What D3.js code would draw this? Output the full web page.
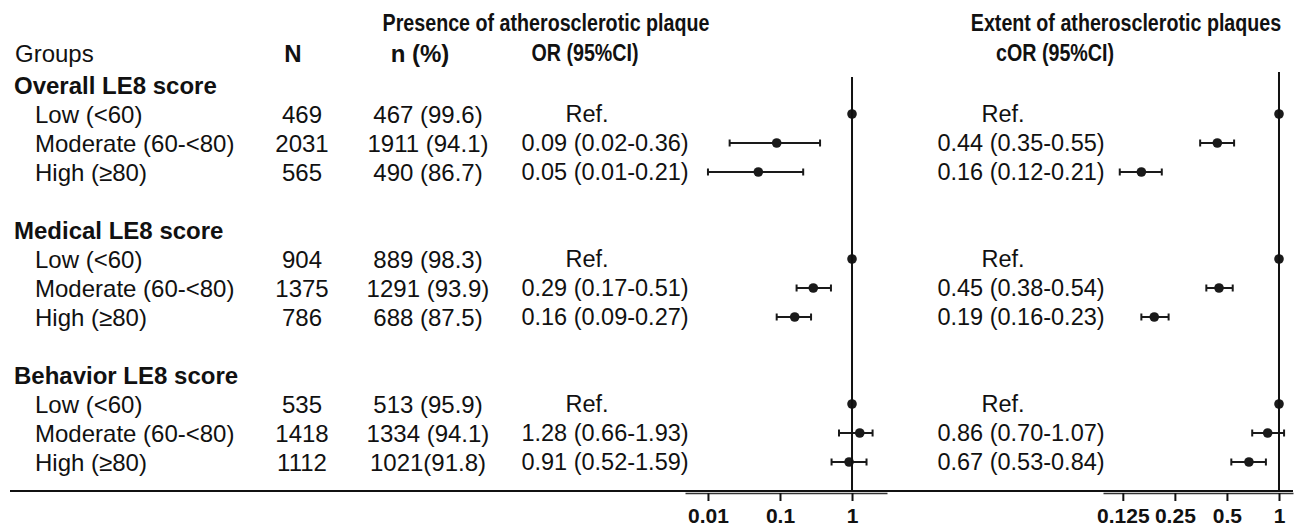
<!DOCTYPE html>
<html>
<head>
<meta charset="utf-8">
<script src="https://cdn.jsdelivr.net/npm/d3@7"></script>
<style>
  body { margin: 0; background: #fff; }
  text { font-family: 'Liberation Sans', Arial, sans-serif; fill: #111; }
</style>
</head>
<body>
<div id="forest"></div>
<script>

// data
var groups = ["Overall LE8 score", "Medical LE8 score", "Behavior LE8 score"];
var levels = ["Low (<60)", "Moderate (60-<80)", "High (\u226580)"];
var nTotal = [469, 2031, 565, 904, 1375, 786, 535, 1418, 1112];
var nCases = ["467 (99.6)", "1911 (94.1)", "490 (86.7)", "889 (98.3)", "1291 (93.9)", "688 (87.5)", "513 (95.9)", "1334 (94.1)", "1021(91.8)"];
var orEst  = [1, 0.09, 0.05, 1, 0.29, 0.16, 1, 1.28, 0.91];
var orLow  = [null, 0.02, 0.01, null, 0.17, 0.09, null, 0.66, 0.52];
var orHigh = [null, 0.36, 0.21, null, 0.51, 0.27, null, 1.93, 1.59];
var corEst  = [1, 0.44, 0.16, 1, 0.45, 0.19, 1, 0.86, 0.67];
var corLow  = [null, 0.35, 0.12, null, 0.38, 0.16, null, 0.70, 0.53];
var corHigh = [null, 0.55, 0.21, null, 0.54, 0.23, null, 1.07, 0.84];
var orTicks = [0.01, 0.1, 1];
var corTicks = [0.125, 0.25, 0.5, 1];

var width = 1296, height = 530;

var svg = d3.select("#forest")
  .append("svg")
    .attr("width", width)
    .attr("height", height);

// build the row list (group header, 3 levels, spacer)
var rowKeys = [];
var rows = [];
groups.forEach(function(g, gi) {
  rowKeys.push("h" + gi);
  levels.forEach(function(l, li) {
    var k = gi * 3 + li;
    rowKeys.push("r" + k);
    rows.push({key: "r" + k, label: l, n: nTotal[k], cases: nCases[k],
      or: orEst[k], orL: orLow[k], orH: orHigh[k],
      cor: corEst[k], corL: corLow[k], corH: corHigh[k]});
  });
  if (gi < groups.length - 1) rowKeys.push("s" + gi);
});

var y = d3.scalePoint()
  .domain(rowKeys)
  .range([85, 462]);

// log scales for the two panels
var xOR = d3.scaleLog()
  .domain([0.0048, 3.06])
  .range([685, 887]);
var xCOR = d3.scaleLog().base(2)
  .domain([0.096, 1.205])
  .range([1103, 1293]);

var fmt = d3.format(".2f");
function ciText(e, l, h) {
  if (l == null) return "Ref.";
  return fmt(e) + " (" + fmt(l) + "-" + fmt(h) + ")";
}

// column headers (the panel titles are set in a condensed bold face)
var head = svg.append("g").style("font-weight", "bold").style("font-size", "24px");
function narrowText(x, yy, s) {
  head.append("text")
    .attr("transform", "translate(" + x + "," + yy + ") scale(0.82,1)")
    .attr("text-anchor", "middle")
    .attr("dominant-baseline", "central")
    .text(s);
}
narrowText(546, 23, "Presence of atherosclerotic plaque");
narrowText(1126, 23, "Extent of atherosclerotic plaques");
narrowText(585, 53, "OR (95%CI)");
narrowText(1055, 53, "cOR (95%CI)");
head.append("text").attr("x", 293).attr("y", 53).attr("text-anchor", "middle")
  .attr("dominant-baseline", "central").text("N");
head.append("text").attr("x", 420).attr("y", 53).attr("text-anchor", "middle")
  .attr("dominant-baseline", "central").text("n (%)");
svg.append("text").attr("x", 15).attr("y", 53).attr("dominant-baseline", "central")
  .style("font-size", "24px").text("Groups");

// group headers
svg.selectAll(".grp")
  .data(groups)
  .enter()
  .append("text")
    .attr("class", "grp")
    .attr("x", 14)
    .attr("y", function(d, i) { return y("h" + i); })
    .attr("dominant-baseline", "central")
    .style("font-size", "24px")
    .style("font-weight", "bold")
    .text(function(d) { return d; });

// table rows
var row = svg.selectAll(".row")
  .data(rows)
  .enter()
  .append("g")
    .attr("class", "row")
    .attr("transform", function(d) { return "translate(0," + y(d.key) + ")"; })
    .style("font-size", "24px");

row.append("text").attr("x", 35).attr("dominant-baseline", "central")
  .text(function(d) { return d.label; });
row.append("text").attr("x", 302).attr("text-anchor", "middle").attr("dominant-baseline", "central")
  .text(function(d) { return d.n; });
row.append("text").attr("x", 428).attr("text-anchor", "middle").attr("dominant-baseline", "central")
  .text(function(d) { return d.cases; });
row.append("text")
  .attr("x", function(d) { return d.orL == null ? 587 : 605; })
  .attr("text-anchor", "middle").attr("dominant-baseline", "central")
  .style("font-size", "23.5px")
  .text(function(d) { return ciText(d.or, d.orL, d.orH); });
row.append("text")
  .attr("x", function(d) { return d.corL == null ? 1003 : 1021; })
  .attr("text-anchor", "middle").attr("dominant-baseline", "central")
  .style("font-size", "23.5px")
  .text(function(d) { return ciText(d.cor, d.corL, d.corH); });

// reference lines at 1
svg.append("line").attr("x1", xOR(1)).attr("x2", xOR(1)).attr("y1", 77).attr("y2", 491)
  .attr("stroke", "#111").attr("stroke-width", 2);
svg.append("line").attr("x1", xCOR(1)).attr("x2", xCOR(1)).attr("y1", 72).attr("y2", 491)
  .attr("stroke", "#111").attr("stroke-width", 2);

// forest marks
function drawCI(sel, x, est, lo, hi) {
  var ci = sel.filter(function(d) { return d[lo] != null; });
  ci.append("line")
    .attr("x1", function(d) { return x(d[lo]); })
    .attr("x2", function(d) { return x(d[hi]); })
    .attr("stroke", "#1a1a1a").attr("stroke-width", 2);
  [lo, hi].forEach(function(k) {
    ci.append("line")
      .attr("x1", function(d) { return x(d[k]); })
      .attr("x2", function(d) { return x(d[k]); })
      .attr("y1", -3.5).attr("y2", 3.5)
      .attr("stroke", "#1a1a1a").attr("stroke-width", 2);
  });
  sel.append("circle")
    .attr("cx", function(d) { return x(d[est]); })
    .attr("r", 4.8)
    .attr("fill", "#1a1a1a");
}
drawCI(row, xOR, "or", "orL", "orH");
drawCI(row, xCOR, "cor", "corL", "corH");

// bottom rule
svg.append("line").attr("x1", 10).attr("x2", 1293).attr("y1", 491).attr("y2", 491)
  .attr("stroke", "#111").attr("stroke-width", 2);

// axes
var axOR = svg.append("g")
  .attr("transform", "translate(0,493)")
  .call(d3.axisBottom(xOR).tickValues(orTicks).tickFormat(function(d) { return d; })
    .tickSize(8).tickSizeOuter(0).tickPadding(7));
var axCOR = svg.append("g")
  .attr("transform", "translate(0,493)")
  .call(d3.axisBottom(xCOR).tickValues(corTicks).tickFormat(function(d) { return d; })
    .tickSize(8).tickSizeOuter(0).tickPadding(7));

[axOR, axCOR].forEach(function(ax) {
  ax.select(".domain").attr("stroke", "#333").attr("stroke-width", 1.5);
  ax.selectAll(".tick line").attr("stroke", "#111").attr("stroke-width", 2);
  ax.selectAll(".tick text")
    .style("font-family", "'Liberation Sans', Arial, sans-serif")
    .style("font-size", "21px")
    .style("font-weight", "bold")
    .attr("fill", "#111");
});

</script>
</body>
</html>
